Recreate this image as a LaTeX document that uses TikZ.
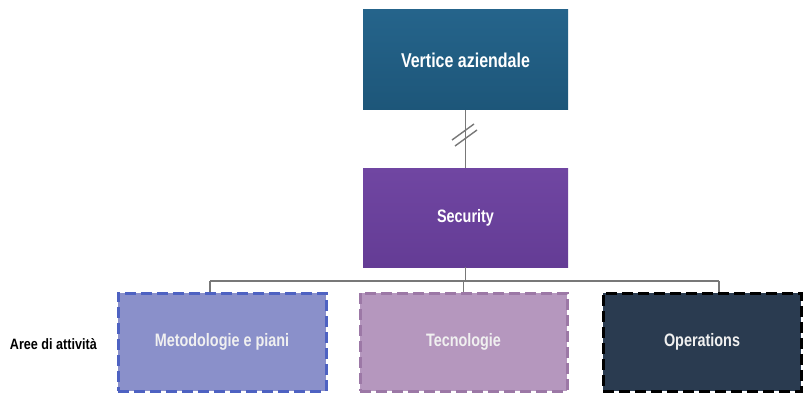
\documentclass[tikz,border=0pt]{standalone}
\usepackage{fontspec}
\setmainfont{Liberation Sans}
\newfontfamily\boxfont[FakeStretch=0.8]{Liberation Sans}
\newfontfamily\lblfont[FakeStretch=0.84]{Liberation Sans}
\usetikzlibrary{calc}
\definecolor{vblue}{HTML}{1D5679}
\definecolor{vbluetop}{HTML}{25648B}
\definecolor{secpur}{HTML}{643C95}
\definecolor{secpurtop}{HTML}{7046A2}
\definecolor{metfill}{HTML}{8A90CA}
\definecolor{metline}{HTML}{4E62C2}
\definecolor{tecfill}{HTML}{B597BE}
\definecolor{tecline}{HTML}{9C78A6}
\definecolor{opfill}{HTML}{2A3B50}
\definecolor{conn}{HTML}{787878}
\tikzset{
  topbox/.style={rectangle, minimum width=205pt, minimum height=100pt, inner sep=0pt,
    text=white, font=\boxfont\bfseries\fontsize{20}{24}\selectfont},
  areabox/.style={rectangle, minimum height=98pt, inner sep=0pt, line width=3pt,
    dash pattern=on 11pt off 5pt, text=white!94!black,
    font=\boxfont\bfseries\fontsize{18}{22}\selectfont},
  link/.style={draw=conn, line width=1.4pt},
}
\begin{document}
\begin{tikzpicture}[x=1pt,y=-1pt]
\useasboundingbox (0,0) rectangle (803,393);
\fill[white] (0,0) rectangle (803,393);
\node[topbox, top color=vbluetop, bottom color=vblue] (v) at (465.5,60) {Vertice aziendale};
\node[topbox, top color=secpurtop, bottom color=secpur, minimum height=99pt,
  font=\boxfont\bfseries\fontsize{18}{22}\selectfont] (s) at (465.5,217.5) {Security};
\node[areabox, fill=metfill, draw=metline, minimum width=208pt] (m) at (222,342) {Metodologie e piani};
\node[areabox, fill=tecfill, draw=tecline, minimum width=207pt] (t) at (463.5,342) {Tecnologie};
\node[areabox, fill=opfill, draw=black, minimum width=198pt] (o) at (702,342) {Operations};
\node[anchor=east, inner sep=0pt, font=\lblfont\bfseries\fontsize{15}{18}\selectfont] (lbl) at (97,344) {Aree di attività};
\coordinate (j1) at (210,281);
\coordinate (j3) at (719,281);
\coordinate (brk) at (465,135);
\draw[link] (v.south) -- (v.south |- s.north);
\draw[link] ($(brk)+(-13,5)$) -- ($(brk)+(9,-11)$);
\draw[link] ($(brk)+(-10,11)$) -- ($(brk)+(12,-5)$);
\draw[link] (s.south) -- (s.south |- j1);
\draw[link] (j1) -- (j3);
\draw[link] (j1) -- (j1 |- m.north);
\draw[link] (t.north) -- (t.north |- j1);
\draw[link] (j3) -- (j3 |- o.north);
\end{tikzpicture}
\end{document}
